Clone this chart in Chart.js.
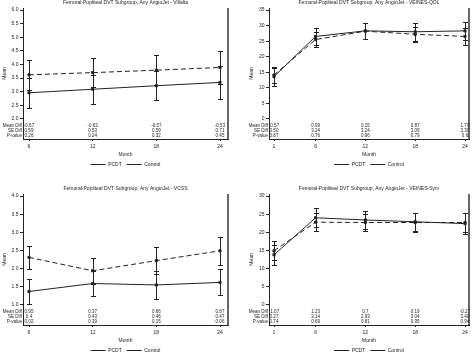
<!DOCTYPE html>
<html>
<head>
<meta charset="utf-8">
<script src="https://cdn.jsdelivr.net/npm/chart.js@4/dist/chart.umd.min.js"></script>
<style>
  body { margin: 0; background: #fff; }
  #wrap { position: relative; width: 474px; height: 358px; overflow: hidden; background: #fff; }
  .cell { position: absolute; width: 237px; height: 179px; }
</style>
</head>
<body>
<div id="wrap">
  <div class="cell" style="left:0;top:-7px"><canvas id="c1" width="237" height="179"></canvas></div>
  <div class="cell" style="left:237px;top:-7px"><canvas id="c2" width="237" height="179"></canvas></div>
  <div class="cell" style="left:0;top:179px"><canvas id="c3" width="237" height="179"></canvas></div>
  <div class="cell" style="left:237px;top:179px"><canvas id="c4" width="237" height="179"></canvas></div>
</div>
<script>
// Villalta
const villaltaMonths = [6, 12, 18, 24];
const villaltaPcdt = [2.96, 3.09, 3.22, 3.34];
const villaltaPcdtLo = [2.40, 2.56, 2.68, 2.72];
const villaltaPcdtHi = [3.52, 3.62, 3.76, 3.96];
const villaltaCtrl = [3.62, 3.70, 3.79, 3.89];
const villaltaCtrlLo = [3.08, 3.18, 3.24, 3.27];
const villaltaCtrlHi = [4.17, 4.23, 4.34, 4.51];
const villaltaYTicks = [2.0, 2.5, 3.0, 3.5, 4.0, 4.5, 5.0, 5.5, 6.0];
const villaltaMeanDiff = ['-0.67', '-0.63', '-0.57', '-0.53'];
const villaltaSeDiff = ['0.59', '0.53', '0.59', '0.71'];
const villaltaPValue = ['0.26', '0.24', '0.32', '0.45'];

// VEINES-QOL
const qolMonths = [1, 6, 12, 18, 24];
const qolPcdt = [13.6, 26.5, 28.3, 28.0, 28.3];
const qolPcdtLo = [10.7, 23.9, 25.7, 25.2, 25.4];
const qolPcdtHi = [16.5, 29.1, 30.9, 30.8, 31.2];
const qolCtrl = [14.1, 25.5, 28.2, 27.2, 26.5];
const qolCtrlLo = [11.4, 23.0, 25.7, 24.8, 23.7];
const qolCtrlHi = [16.8, 28.0, 30.7, 29.6, 29.3];
const qolYTicks = [0, 5, 10, 15, 20, 25, 30, 35];
const qolMeanDiff = ['-0.57', '0.99', '0.15', '0.87', '1.79'];
const qolSeDiff = ['3.50', '3.24', '3.24', '3.09', '3.30'];
const qolPValue = ['0.87', '0.76', '0.96', '0.79', '0.6'];

// VCSS
const vcssMonths = [6, 12, 18, 24];
const vcssPcdt = [1.37, 1.59, 1.55, 1.62];
const vcssPcdtLo = [1.03, 1.25, 1.17, 1.26];
const vcssPcdtHi = [1.71, 1.93, 1.93, 1.98];
const vcssCtrl = [2.31, 1.94, 2.22, 2.49];
const vcssCtrlLo = [1.99, 1.58, 1.84, 2.11];
const vcssCtrlHi = [2.63, 2.30, 2.60, 2.87];
const vcssYTicks = [1.0, 1.5, 2.0, 2.5, 3.0, 3.5, 4.0];
const vcssMeanDiff = ['0.95', '0.37', '0.66', '0.87'];
const vcssSeDiff = ['0.4', '0.43', '0.46', '0.47'];
const vcssPValue = ['0.02', '0.39', '0.15', '0.06'];

// VEINES-Sym
const symMonths = [1, 6, 12, 18, 24];
const symPcdt = [13.8, 24.0, 23.4, 22.9, 22.4];
const symPcdtLo = [11.1, 21.4, 21.0, 20.4, 19.5];
const symPcdtHi = [16.5, 26.6, 25.8, 25.4, 25.3];
const symCtrl = [14.9, 22.8, 22.7, 22.7, 22.7];
const symCtrlLo = [12.3, 20.3, 20.4, 20.2, 20.0];
const symCtrlHi = [17.5, 25.3, 25.0, 25.2, 25.4];
const symYTicks = [0, 5, 10, 15, 20, 25, 30];
const symMeanDiff = ['-1.07', '1.23', '0.7', '0.19', '-0.27'];
const symSeDiff = ['3.27', '3.14', '2.93', '3.04', '3.40'];
const symPValue = ['0.74', '0.69', '0.81', '0.95', '0.94'];

const ink = '#222';
const fontFamily = "'Liberation Sans', Arial, sans-serif";
Chart.defaults.font.family = fontFamily;
Chart.defaults.color = ink;

function makeChart(id, c) {
    const yLo = c.yTicks[0];
    const yHi = c.yTicks[c.yTicks.length - 1];
    const ySpan = yHi - yLo;
    const xLo = c.months[0];
    const xHi = c.months[c.months.length - 1];
    const xSpan = xHi - xLo;

    // error bars, stats table and right frame line
    const extras = {
        id: 'extras',
        afterDatasetsDraw(chart) {
            const {ctx, chartArea, scales: {x, y}} = chart;
            ctx.save();
            ctx.strokeStyle = ink;
            ctx.lineWidth = 1;
            ctx.setLineDash([]);
            [[c.pcdtLo, c.pcdtHi], [c.ctrlLo, c.ctrlHi]].forEach(([lo, hi]) => {
                c.months.forEach((m, i) => {
                    const px = Math.round(x.getPixelForValue(m)) + 0.5;
                    const pLo = Math.round(y.getPixelForValue(lo[i])) + 0.5;
                    const pHi = Math.round(y.getPixelForValue(hi[i])) + 0.5;
                    ctx.beginPath();
                    ctx.moveTo(px, pLo); ctx.lineTo(px, pHi);
                    ctx.moveTo(px - 2.5, pLo); ctx.lineTo(px + 2.5, pLo);
                    ctx.moveTo(px - 2.5, pHi); ctx.lineTo(px + 2.5, pHi);
                    ctx.stroke();
                });
            });

            // stats table
            ctx.fillStyle = ink;
            ctx.font = '4.5px ' + fontFamily;
            ctx.textBaseline = 'middle';
            const rows = [['Mean Diff', c.meanDiff], ['SE Diff', c.seDiff], ['P-value', c.pValue]];
            rows.forEach(([label, vals], r) => {
                const ty = chartArea.bottom - 13 + r * 5;
                ctx.textAlign = 'right';
                ctx.fillText(label, chartArea.left - 1, ty);
                ctx.textAlign = 'center';
                vals.forEach((v, i) => {
                    ctx.fillText(v, x.getPixelForValue(c.months[i]), ty);
                });
            });

            // right frame
            ctx.lineWidth = 1.5;
            ctx.strokeStyle = '#333';
            ctx.beginPath();
            ctx.moveTo(chartArea.right, chartArea.top);
            ctx.lineTo(chartArea.right, chartArea.bottom);
            ctx.stroke();
            ctx.restore();
        }
    };

    const toPoints = (vals) => c.months.map((m, i) => ({x: m, y: vals[i]}));

    return new Chart(document.getElementById(id), {
        type: 'line',
        data: {
            datasets: [{
                label: 'PCDT',
                data: toPoints(c.pcdt),
                borderColor: ink,
                backgroundColor: ink,
                borderWidth: 1,
                pointStyle: 'rect',
                pointRadius: 1.5,
                tension: 0
            }, {
                label: 'Control',
                data: toPoints(c.ctrl),
                borderColor: ink,
                backgroundColor: ink,
                borderWidth: 1,
                borderDash: [5, 3],
                pointStyle: 'rect',
                pointRadius: 1.5,
                tension: 0
            }]
        },
        options: {
            responsive: false,
            animation: false,
            devicePixelRatio: 1,
            layout: { padding: { left: 0, right: c.rightPad, top: 0, bottom: -5 } },
            plugins: {
                title: {
                    display: true,
                    text: c.title,
                    fullSize: false,
                    color: ink,
                    font: { size: 5, weight: 'normal' },
                    padding: { top: 7, bottom: 2 }
                },
                legend: {
                    position: 'bottom',
                    fullSize: false,
                    labels: {
                        usePointStyle: true,
                        pointStyle: 'line',
                        pointStyleWidth: 15,
                        padding: 5,
                        color: ink,
                        font: { size: 5 }
                    }
                },
                tooltip: { enabled: false }
            },
            scales: {
                x: {
                    type: 'linear',
                    min: xLo - xSpan * c.xPadL / 191,
                    max: xHi + xSpan * c.xPadR / 191,
                    afterBuildTicks: s => { s.ticks = c.months.map(v => ({ value: v })); },
                    afterFit: s => { s.height = 18; },
                    grid: { drawOnChartArea: false, tickLength: 2, color: ink },
                    border: { color: ink, width: 1 },
                    ticks: { font: { size: 5 }, color: ink, padding: 3, maxRotation: 0, autoSkip: false,
                             callback: v => String(v) },
                    title: { display: true, text: 'Month', color: ink,
                             font: { size: 5, lineHeight: 1 }, padding: { top: 0, bottom: 0 } }
                },
                y: {
                    min: yLo - ySpan * 20 / 108.5,
                    max: yHi + ySpan * 2 / 108.5,
                    afterBuildTicks: s => { s.ticks = c.yTicks.map(v => ({ value: v })); },
                    afterFit: s => { s.width = c.yWidth; },
                    grid: { drawOnChartArea: false, tickLength: 3, color: ink },
                    border: { color: ink, width: 1 },
                    ticks: { font: { size: 5 }, color: ink, padding: 1.5,
                             callback: v => v.toFixed(c.yDec) },
                    title: { display: true, text: 'Mean', color: ink,
                             font: { size: 5 }, padding: { top: c.yTitlePad, bottom: 0 } }
                }
            }
        },
        plugins: [extras]
    });
}

makeChart('c1', {
    title: 'Femoral-Popliteal DVT Subgroup, Any AngioJet - Villalta',
    months: villaltaMonths, pcdt: villaltaPcdt, pcdtLo: villaltaPcdtLo, pcdtHi: villaltaPcdtHi,
    ctrl: villaltaCtrl, ctrlLo: villaltaCtrlLo, ctrlHi: villaltaCtrlHi,
    yTicks: villaltaYTicks, yDec: 1,
    meanDiff: villaltaMeanDiff, seDiff: villaltaSeDiff, pValue: villaltaPValue,
    yWidth: 23, yTitlePad: 2, rightPad: 9, xPadL: 6, xPadR: 8
});

makeChart('c2', {
    title: 'Femoral-Popliteal DVT Subgroup, Any AngioJet - VEINES-QOL',
    months: qolMonths, pcdt: qolPcdt, pcdtLo: qolPcdtLo, pcdtHi: qolPcdtHi,
    ctrl: qolCtrl, ctrlLo: qolCtrlLo, ctrlHi: qolCtrlHi,
    yTicks: qolYTicks, yDec: 0,
    meanDiff: qolMeanDiff, seDiff: qolSeDiff, pValue: qolPValue,
    yWidth: 32, yTitlePad: 12, rightPad: 5, xPadL: 5, xPadR: 4
});

makeChart('c3', {
    title: 'Femoral-Popliteal DVT Subgroup, Any AngioJet - VCSS',
    months: vcssMonths, pcdt: vcssPcdt, pcdtLo: vcssPcdtLo, pcdtHi: vcssPcdtHi,
    ctrl: vcssCtrl, ctrlLo: vcssCtrlLo, ctrlHi: vcssCtrlHi,
    yTicks: vcssYTicks, yDec: 1,
    meanDiff: vcssMeanDiff, seDiff: vcssSeDiff, pValue: vcssPValue,
    yWidth: 23, yTitlePad: 2, rightPad: 9, xPadL: 6, xPadR: 8
});

makeChart('c4', {
    title: 'Femoral-Popliteal DVT Subgroup, Any AngioJet - VEINES-Sym',
    months: symMonths, pcdt: symPcdt, pcdtLo: symPcdtLo, pcdtHi: symPcdtHi,
    ctrl: symCtrl, ctrlLo: symCtrlLo, ctrlHi: symCtrlHi,
    yTicks: symYTicks, yDec: 0,
    meanDiff: symMeanDiff, seDiff: symSeDiff, pValue: symPValue,
    yWidth: 32, yTitlePad: 12, rightPad: 5, xPadL: 5, xPadR: 4
});
</script>
</body>
</html>
